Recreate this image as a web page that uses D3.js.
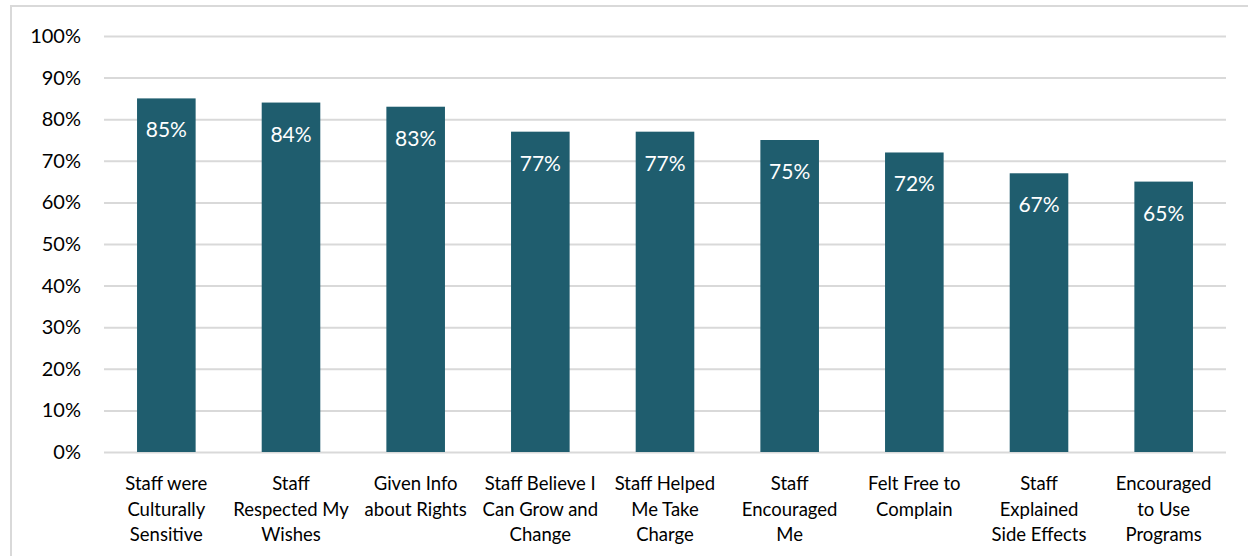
<!DOCTYPE html>
<html><head><meta charset="utf-8">
<script src="https://cdn.jsdelivr.net/npm/d3@7"></script>
<style>body{margin:0;background:#fff}svg{display:block}text{font-family:Lato,"Open Sans",sans-serif}</style>
</head><body>
<svg id="c" width="1248" height="556"></svg>
<script>
const categories = [
  ["Staff were","Culturally","Sensitive"],
  ["Staff","Respected My","Wishes"],
  ["Given Info","about Rights"],
  ["Staff Believe I","Can Grow and","Change"],
  ["Staff Helped","Me Take","Charge"],
  ["Staff","Encouraged","Me"],
  ["Felt Free to","Complain"],
  ["Staff","Explained","Side Effects"],
  ["Encouraged","to Use","Programs"]
];
const values = [85,84,83,77,77,75,72,67,65];
const yTicks = [0,10,20,30,40,50,60,70,80,90,100];

(function(){
const svg = d3.select("#c");
svg.append("rect").attr("x",11).attr("y",6).attr("width",1250).attr("height",560)
  .attr("fill","#fff").attr("stroke","#d9d9d9").attr("stroke-width",2);

const pl=104, pr=1226, pt=36, pb=452;
const x = d3.scaleBand().domain(categories.map((d,i)=>i)).range([pl,pr]).paddingInner(0.53).paddingOuter(0.265);
const y = d3.scaleLinear().domain([0,100]).range([pb,pt]);

const yAxis = svg.append("g").attr("transform",`translate(${pl},0)`)
  .call(d3.axisLeft(y).tickValues(yTicks).tickFormat(d=>d+"%").tickSize(-(pr-pl)).tickPadding(24));
yAxis.select(".domain").remove();
yAxis.selectAll(".tick line").attr("stroke","#d9d9d9").attr("stroke-width",2);
yAxis.selectAll(".tick text").attr("font-size",20).attr("fill","#000").attr("x",-23);

svg.append("g").selectAll("rect").data(values).join("rect")
  .attr("x",(d,i)=>x(i)).attr("width",x.bandwidth())
  .attr("y",d=>y(d)).attr("height",d=>pb-y(d)).attr("fill","#1f5d6e");

svg.append("g").selectAll("text").data(values).join("text")
  .attr("x",(d,i)=>x(i)+x.bandwidth()/2).attr("y",d=>y(d)+39)
  .attr("text-anchor","middle").attr("font-size",21).attr("fill","#fff")
  .text(d=>d+"%");

const xl = svg.append("g");
categories.forEach((lines,i)=>{
  const t = xl.append("text").attr("text-anchor","middle").attr("font-size",18.5).attr("fill","#000");
  lines.forEach((ln,j)=>{
    t.append("tspan").attr("x",x(i)+x.bandwidth()/2).attr("y",490+j*25.5).text(ln);
  });
});
})();
</script>
</body></html>
